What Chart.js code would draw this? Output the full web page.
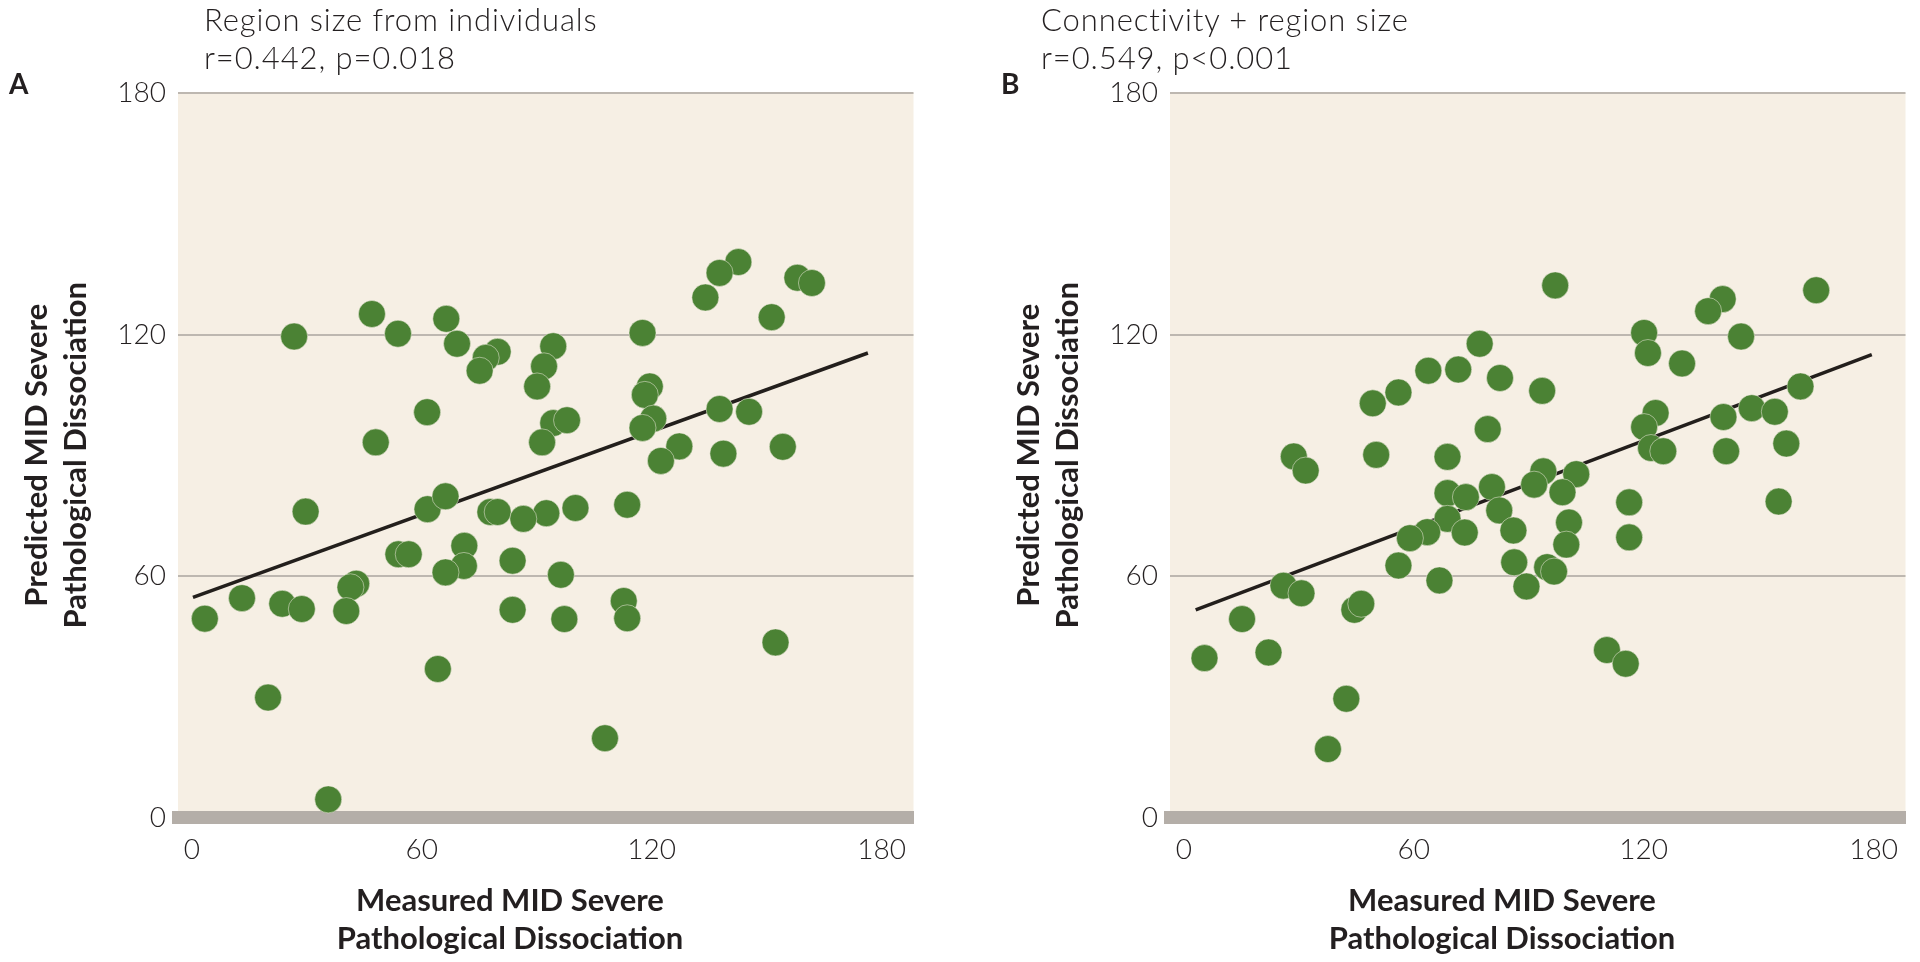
<!DOCTYPE html>
<html>
<head>
<meta charset="utf-8">
<title>Measured vs predicted MID severe pathological dissociation</title>
<script src="https://cdn.jsdelivr.net/npm/chart.js@4.4.1/dist/chart.umd.min.js"></script>
<style>
  body { margin: 0; width: 1920px; height: 962px; background: #fff; position: relative; overflow: hidden; font-family: Lato, "Open Sans", sans-serif; color: #231f20; }
  .panel { position: absolute; top: 0; width: 928px; height: 962px; }
  .panel canvas { position: absolute; left: 0; top: 0; }
  .letter { position: absolute; font-weight: 700; font-size: 28px; line-height: 28px; }
  .head { position: absolute; font-weight: 300; font-size: 31px; line-height: 38px; letter-spacing: 0.9px; white-space: nowrap; }
  .xtitle { position: absolute; width: 500px; text-align: center; font-weight: 700; font-size: 31px; line-height: 38px; white-space: nowrap; }
</style>
</head>
<body>
<div class="panel" style="left:0px">
  <canvas id="chartA" width="928" height="962"></canvas>
  <div class="letter" style="left:9px;top:69px">A</div>
  <div class="head" style="left:204px;top:0px">Region size from individuals<br>r=0.442, p=0.018</div>
  <div class="xtitle" style="left:260px;top:880px">Measured MID Severe<br>Pathological Dissociation</div>
</div>
<div class="panel" style="left:992px">
  <canvas id="chartB" width="928" height="962"></canvas>
  <div class="letter" style="left:9px;top:69px">B</div>
  <div class="head" style="left:49px;top:0px">Connectivity + region size<br>r=0.549, p&lt;0.001</div>
  <div class="xtitle" style="left:260px;top:880px">Measured MID Severe<br>Pathological Dissociation</div>
</div>
<script>
// Axis ticks
const xTicks = [0, 60, 120, 180];
const yTicks = [0, 60, 120, 180];
const yTitle = ['Predicted MID Severe', 'Pathological Dissociation'];

// Panel A: region size from individuals
const measuredA = [26.7, 47.0, 53.8, 66.4, 69.2, 79.8, 76.7, 75.1, 94.3, 91.9, 90.1, 61.4, 48.0, 94.3, 97.9, 91.4,
  142.6, 137.7, 134.0, 158.0, 161.8, 151.3, 117.6, 119.5, 118.2, 120.4, 117.6, 137.7, 145.4, 127.2, 122.4, 138.7, 154.2,
  92.5, 100.1, 113.6, 96.3, 112.7, 97.2, 113.6, 152.3, 107.8,
  29.7, 61.5, 66.2, 77.9, 79.8, 86.5, 53.9, 56.6, 71.1, 71.0, 66.2, 83.7, 42.9, 41.4, 3.4, 13.1, 23.6, 28.7, 40.3, 83.7, 64.2, 19.9, 35.6];
const predictedA = [119.5, 125.1, 120.2, 123.9, 117.7, 115.7, 114.2, 111.0, 117.1, 112.1, 107.1, 100.7, 93.2, 98.0, 98.7, 93.2,
  138.0, 135.3, 129.2, 134.1, 132.8, 124.3, 120.4, 107.1, 105.0, 99.1, 96.8, 101.5, 100.8, 92.2, 88.6, 90.4, 92.1,
  75.6, 76.9, 77.7, 60.3, 53.8, 49.3, 49.5, 43.5, 19.7,
  76.0, 76.6, 79.8, 75.9, 75.9, 74.2, 65.4, 65.4, 67.5, 62.5, 60.9, 63.8, 58.1, 57.2, 49.4, 54.5, 53.1, 51.8, 51.3, 51.6, 36.9, 29.8, 4.5];
const fitAx = [0.3, 176.4];
const fitAy = [54.7, 115.4];

// Panel B: connectivity + region size
const measuredB = [77.2, 71.6, 63.8, 56.0, 49.3, 82.5, 93.5, 79.3, 28.7, 31.8, 50.2, 68.8, 96.9, 165.0, 140.6, 136.8, 145.4,
  120.1, 121.1, 130.0, 160.9, 123.1, 120.1, 140.8, 148.2, 154.2, 157.2, 141.5, 121.9, 125.1, 93.8, 91.4, 102.4, 98.8,
  100.5, 99.8, 94.8, 96.6, 89.4, 116.2, 116.2, 155.2, 110.4, 115.3, 68.8, 73.6, 80.4, 82.3, 86.0, 68.8, 63.5, 59.0,
  73.3, 56.0, 66.7, 86.2, 26.0, 30.7, 44.5, 46.3, 15.2, 5.4, 22.1, 42.4, 37.6];
const predictedB = [117.7, 111.3, 111.0, 105.6, 102.9, 109.2, 106.0, 96.5, 89.7, 86.2, 90.1, 89.6, 132.2, 131.0, 128.8, 125.8, 119.5,
  120.4, 115.4, 112.8, 107.1, 100.5, 97.0, 99.5, 101.7, 100.8, 92.9, 91.0, 91.8, 91.0, 86.0, 82.7, 85.3, 80.8,
  73.3, 67.8, 62.2, 61.1, 57.4, 78.3, 69.6, 78.5, 41.6, 38.2, 80.6, 79.6, 82.1, 76.3, 71.3, 74.2, 70.9, 69.4,
  70.8, 62.6, 58.9, 63.4, 57.6, 55.7, 51.6, 53.1, 49.3, 39.6, 41.0, 29.5, 17.0];
const fitBx = [3.1, 179.5];
const fitBy = [51.6, 115.0];

const textColor = '#231f20';

// Beige fill behind the plot area
const plotBackground = {
  id: 'plotBackground',
  beforeDraw(chart) {
    const { ctx, chartArea: a } = chart;
    ctx.save();
    ctx.fillStyle = '#f6efe4';
    ctx.fillRect(a.left, a.top, a.right - a.left, a.bottom - a.top);
    ctx.restore();
  }
};

function toPoints(xs, ys) {
  return xs.map((x, i) => ({ x: x, y: ys[i] }));
}

// One scatter panel with its fit line
function setupChart(id, xs, ys, fitX, fitY) {
  const ctx = document.getElementById(id).getContext('2d');
  return new Chart(ctx, {
    type: 'scatter',
    data: {
      datasets: [{
        type: 'line',
        data: toPoints(fitX, fitY),
        borderColor: '#231f1c',
        borderWidth: 3.5,
        pointRadius: 0,
        fill: false,
        order: 2
      }, {
        data: toPoints(xs, ys),
        backgroundColor: '#4b8234',
        borderColor: 'rgba(246,239,228,0.5)',
        borderWidth: 1,
        pointRadius: 13.5,
        order: 1
      }]
    },
    options: {
      responsive: false,
      animation: false,
      devicePixelRatio: 1,
      layout: { padding: { top: 93, right: 9, bottom: 0, left: 0 } },
      plugins: { legend: { display: false }, tooltip: { enabled: false } },
      scales: {
        x: {
          type: 'linear',
          min: -3.6,
          max: 188.3,
          afterBuildTicks: s => { s.ticks = xTicks.map(v => ({ value: v })); },
          afterFit: s => { s.height = 144.5; },
          grid: { display: false },
          border: { display: true, width: 13, color: '#b4aea8' },
          ticks: { padding: 8, color: textColor, font: { family: 'Lato', size: 28, weight: 300 } }
        },
        y: {
          min: 0,
          max: 180,
          afterBuildTicks: s => { s.ticks = yTicks.map(v => ({ value: v })); },
          afterFit: s => { s.width = 178; },
          grid: { color: '#bdb7b0', lineWidth: 2, drawTicks: false },
          border: { display: false },
          ticks: { padding: 12, color: textColor, font: { family: 'Lato', size: 28, weight: 300 } },
          title: {
            display: true,
            text: yTitle,
            color: textColor,
            font: { family: 'Lato', size: 31, weight: 700, lineHeight: '39px' },
            padding: { top: 17, bottom: 0 }
          }
        }
      }
    },
    plugins: [plotBackground]
  });
}

setupChart('chartA', measuredA, predictedA, fitAx, fitAy);
setupChart('chartB', measuredB, predictedB, fitBx, fitBy);
</script>
</body>
</html>
